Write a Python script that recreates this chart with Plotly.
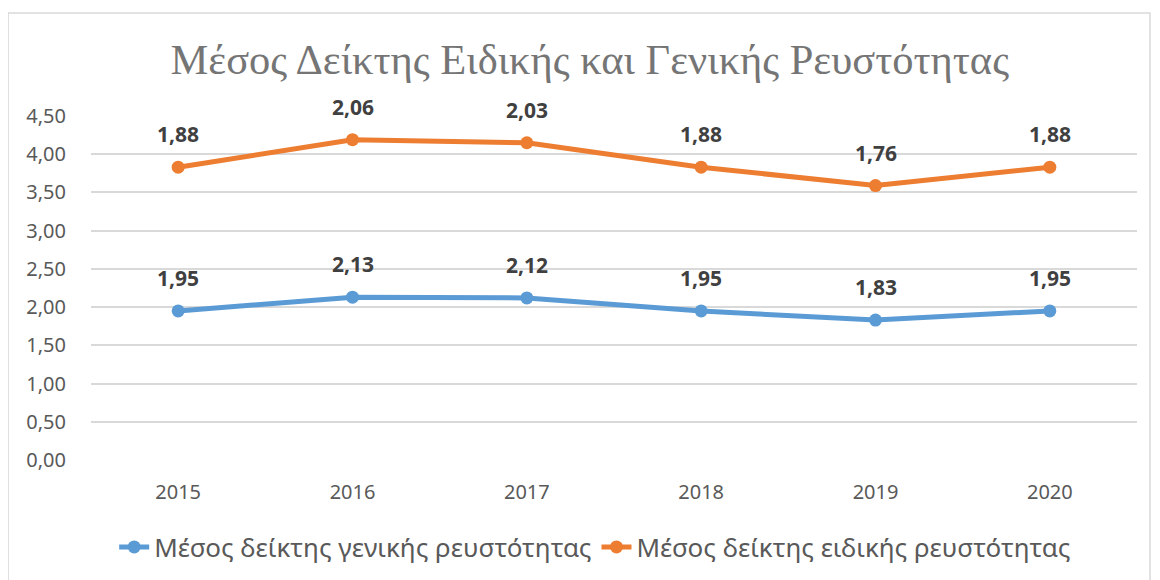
import plotly.graph_objects as go
import numpy as np

years = [2015, 2016, 2017, 2018, 2019, 2020]
general = [1.95, 2.13, 2.12, 1.95, 1.83, 1.95]
special = [1.88, 2.06, 2.03, 1.88, 1.76, 1.88]
name_general = "Μέσος δείκτης γενικής ρευστότητας"
name_special = "Μέσος δείκτης ειδικής ρευστότητας"
title_text = "Μέσος Δείκτης Ειδικής και Γενικής Ρευστότητας"
y_ticks = [0, 0.5, 1.0, 1.5, 2.0, 2.5, 3.0, 3.5, 4.0, 4.5]

BLUE = "#5b9bd5"
ORANGE = "#ed7d31"
SANS = "Noto Sans, Open Sans, sans-serif"

stacked_top = (np.array(general) + np.array(special)).tolist()

fig = go.Figure()
fig.add_trace(go.Scatter(x=years, y=general, name=name_general, mode="lines+markers",
                         line=dict(color=BLUE, width=5), marker=dict(size=13, color=BLUE)))
fig.add_trace(go.Scatter(x=years, y=stacked_top, name=name_special, mode="lines+markers",
                         line=dict(color=ORANGE, width=5), marker=dict(size=13, color=ORANGE)))

def fmt(v):
    return f"{v:.2f}".replace(".", ",")

annots = []
for ys, vals in ((general, general), (stacked_top, special)):
    for x, y, v in zip(years, ys, vals):
        annots.append(dict(x=x, y=y, xref="x", yref="y", text="<b>" + fmt(v) + "</b>",
                           showarrow=False, yshift=33,
                           font=dict(family=SANS, size=21, color="#404040")))

fig.update_layout(
    width=1152, height=572,
    margin=dict(l=83, r=23, t=108, b=120, autoexpand=False),
    paper_bgcolor="white", plot_bgcolor="white",
    separators=", ",
    title=dict(text=title_text, x=0.505, xanchor="center", y=0.911, yanchor="middle",
               font=dict(family="Liberation Serif, DejaVu Serif, serif", size=42.5, color="#757575")),
    font=dict(family=SANS, color="#595959"),
    showlegend=True,
    legend=dict(orientation="h", x=0.482, xanchor="center", y=-0.253, yanchor="middle",
                font=dict(size=26, color="#595959")),
    hovermode=False,
    annotations=annots,
    shapes=[dict(type="rect", xref="paper", yref="paper", x0=-0.0793, x1=1.0124, y0=-0.5, y1=1.2994,
                 line=dict(color="#d9d9d9", width=1.5), layer="below")],
)
fig.update_xaxes(range=[2014.5, 2020.5], tickvals=years, tickformat="d", showgrid=False,
                 showline=False, zeroline=False, ticks="",
                 tickfont=dict(size=20, color="#595959"), ticklabelstandoff=18)
fig.update_yaxes(range=[0, 4.5], tickvals=y_ticks, tickformat=".2f", showgrid=True,
                 gridcolor="#d9d9d9", gridwidth=1.5, zeroline=False, showline=False, ticks="",
                 tickfont=dict(size=20, color="#595959"), ticklabelstandoff=24)

fig.write_html("out.html")
